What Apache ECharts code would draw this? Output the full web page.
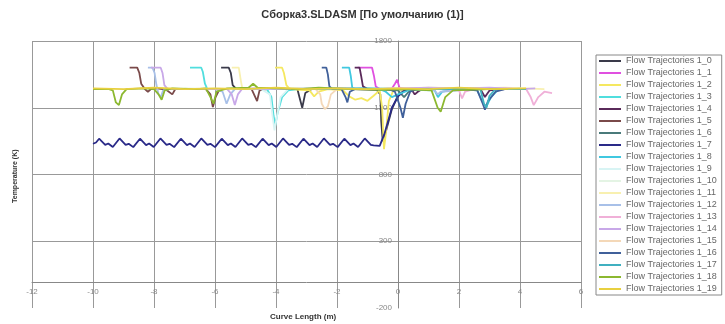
<!DOCTYPE html>
<html>
<head>
<meta charset="utf-8">
<script src="https://cdn.jsdelivr.net/npm/echarts@6/dist/echarts.min.js"></script>
<style>
html,body{margin:0;padding:0;background:#fff;}
#main{width:725px;height:324px;}
</style>
</head>
<body>
<div id="main"></div>
<script>
//1.创建echarts对象
var myChart=echarts.init(document.getElementById("main"));

//X/Y轴刻度
var xTicks=[-12,-10,-8,-6,-4,-2,0,2,4,6];
var yTicks=[-200,300,800,1300,1800];

//曲线名
var names=[];
for(var i=0;i<20;i++){ names.push("Flow Trajectories 1_"+i); }

//各条轨迹 [Curve Length, Temperature]
var flow0=[[-5.8,1600],[-5.55,1600],[-5.48,1560],[-5.42,1470],[-5.3,1440],[-4.2,1445],[-3.3,1440],[-3.22,1370],[-3.14,1300],[-3.04,1410],[-2.8,1445],[-1.5,1440],[-0.7,1435],[-0.58,1400],[-0.55,1200],[-0.5,1050],[-0.4,1120],[-0.2,1290],[0.0,1390],[0.2,1430],[0.8,1440]];
var flow1=[[-1.32,1600],[-0.85,1600],[-0.79,1540],[-0.73,1460],[-0.6,1440],[-0.2,1445],[-0.1,1480],[-0.03,1510],[0.05,1450],[0.3,1440],[1.0,1440]];
var flow2=[[-4.03,1600],[-3.8,1600],[-3.74,1560],[-3.66,1470],[-3.55,1440],[-3.2,1435],[-2.9,1430],[-2.75,1385],[-2.6,1420],[-2.3,1440],[-1.8,1430],[-1.6,1385],[-1.4,1360],[-1.2,1372],[-1.0,1352],[-0.8,1390],[-0.6,1430],[-0.52,1300],[-0.46,990],[-0.4,1100],[-0.3,1350],[-0.15,1430],[0.3,1440],[1.0,1445],[2.0,1440],[3.0,1445],[3.8,1440]];
var flow3=[[-6.82,1600],[-6.45,1600],[-6.4,1570],[-6.33,1480],[-6.25,1440],[-5.0,1440],[-4.3,1440],[-4.15,1380],[-4.08,1240],[-4.02,1170],[-3.95,1260],[-3.8,1380],[-3.6,1430],[-3.3,1440],[-2.1,1440],[-1.2,1445],[-0.3,1440]];
var flow4=[[-1.42,1600],[-1.26,1600],[-1.21,1540],[-1.15,1460],[-1.0,1440],[0.0,1440],[0.45,1435],[0.55,1400],[0.65,1420],[0.8,1440],[2.0,1445],[2.7,1440],[2.85,1380],[3.0,1430],[3.5,1440]];
var flow5=[[-8.8,1600],[-8.55,1600],[-8.48,1560],[-8.42,1480],[-8.3,1440],[-8.2,1420],[-8.1,1440],[-7.9,1445],[-7.6,1435],[-7.4,1400],[-7.3,1440],[-6.3,1440],[-6.15,1400],[-6.07,1305],[-5.98,1380],[-5.85,1440],[-4.8,1440],[-4.68,1380],[-4.62,1350],[-4.54,1430],[-4.3,1440],[-3.0,1440],[-2.0,1440]];
var flow6=[[-3.0,1440],[-2.0,1445],[-1.0,1440],[0.0,1430],[0.2,1380],[0.35,1420],[0.6,1440],[1.5,1440],[2.5,1445],[3.5,1440]];
var flow7=[[-10.0,1030],[-9.9,1040],[-9.8,1068],[-9.6,1022],[-9.5,1032],[-9.35,1006],[-9.13,1070],[-8.93,1022],[-8.83,1030],[-8.68,1005],[-8.46,1068],[-8.26,1020],[-8.16,1032],[-8.01,1006],[-7.79,1070],[-7.59,1022],[-7.49,1030],[-7.34,1005],[-7.12,1068],[-6.92,1020],[-6.82,1032],[-6.67,1006],[-6.45,1070],[-6.25,1022],[-6.15,1030],[-6.0,1005],[-5.78,1068],[-5.58,1020],[-5.48,1032],[-5.33,1006],[-5.11,1070],[-4.91,1022],[-4.81,1030],[-4.66,1005],[-4.44,1068],[-4.24,1020],[-4.14,1032],[-3.99,1006],[-3.77,1070],[-3.57,1022],[-3.47,1030],[-3.32,1005],[-3.1,1068],[-2.9,1020],[-2.8,1032],[-2.65,1006],[-2.43,1070],[-2.23,1022],[-2.13,1030],[-1.98,1005],[-1.76,1068],[-1.56,1020],[-1.46,1032],[-1.31,1006],[-1.09,1070],[-0.89,1022],[-0.8,1018],[-0.6,1015],[-0.45,1100],[-0.2,1300],[0.0,1385],[0.25,1435],[1.0,1440],[1.9,1445]];
var flow8=[[-1.84,1600],[-1.6,1600],[-1.55,1540],[-1.5,1450],[-1.4,1440],[-0.6,1440],[-0.4,1420],[-0.2,1380],[0.0,1400],[0.4,1435],[1.2,1430],[1.31,1380],[1.45,1420],[2.0,1440],[2.6,1430],[2.8,1330],[2.9,1310],[3.05,1380],[3.3,1440],[4.0,1445]];
var flow9=[[-6.0,1440],[-4.5,1440],[-4.2,1400],[-4.12,1250],[-4.05,1130],[-3.98,1220],[-3.85,1380],[-3.6,1440],[-2.0,1440],[0.0,1445]];
var flow10=[[-7.0,1445],[-5.0,1440],[-3.0,1445],[-1.0,1440],[1.0,1445],[3.0,1440]];
var flow11=[[-5.45,1600],[-5.22,1600],[-5.15,1500],[-5.1,1440],[-3.0,1445],[-1.0,1440],[1.0,1450],[2.5,1445],[3.5,1450],[4.8,1440]];
var flow12=[[-8.2,1600],[-8.05,1600],[-7.98,1560],[-7.92,1470],[-7.85,1400],[-7.78,1380],[-7.7,1430],[-7.5,1440],[-6.0,1440],[-5.75,1420],[-5.62,1330],[-5.5,1400],[-5.35,1440],[-4.0,1440],[-3.0,1445],[-2.0,1440],[-1.0,1440],[0.5,1440],[1.2,1430],[1.3,1400],[1.4,1420],[2.5,1440],[3.5,1440]];
var flow13=[[-1.0,1440],[0.5,1445],[1.5,1440],[2.0,1430],[2.1,1370],[2.2,1420],[2.5,1440],[3.5,1445],[4.2,1440],[4.35,1380],[4.45,1320],[4.6,1380],[4.8,1420],[5.05,1410]];
var flow14=[[-8.1,1600],[-7.78,1600],[-7.72,1560],[-7.66,1470],[-7.55,1440],[-6.5,1440],[-5.6,1440],[-5.45,1400],[-5.35,1320],[-5.25,1400],[-5.1,1445],[-3.5,1440],[-2.0,1445],[-0.5,1440],[1.0,1450],[2.0,1445],[3.0,1450],[4.0,1440],[4.5,1445]];
var flow15=[[-3.2,1440],[-2.7,1440],[-2.55,1400],[-2.5,1330],[-2.4,1290],[-2.3,1310],[-2.2,1400],[-2.0,1440],[0.0,1440],[2.0,1445],[3.5,1440]];
var flow16=[[-2.5,1600],[-2.35,1600],[-2.3,1550],[-2.25,1460],[-2.15,1440],[-1.85,1440],[-1.72,1380],[-1.66,1340],[-1.58,1420],[-1.4,1440],[-0.3,1440],[-0.1,1420],[0.08,1300],[0.16,1225],[0.25,1330],[0.4,1420],[0.6,1440],[2.0,1440],[2.6,1430],[2.78,1330],[2.85,1285],[2.95,1350],[3.2,1420],[3.5,1440]];
var flow17=[[-3.5,1440],[-1.0,1445],[0.5,1440],[1.5,1440],[2.7,1440],[2.82,1330],[2.9,1300],[3.0,1390],[3.2,1440],[4.2,1440]];
var flow18=[[-10.0,1440],[-9.5,1442],[-9.35,1430],[-9.25,1340],[-9.15,1320],[-9.05,1400],[-8.9,1440],[-8.3,1445],[-8.0,1440],[-7.85,1400],[-7.75,1360],[-7.65,1430],[-7.4,1445],[-6.6,1440],[-6.3,1445],[-6.15,1380],[-6.05,1330],[-5.95,1420],[-5.6,1445],[-4.9,1450],[-4.75,1480],[-4.6,1450],[-4.0,1445],[-3.2,1440],[-2.6,1450],[-1.5,1440],[-0.5,1435],[0.2,1440],[1.1,1430],[1.3,1300],[1.4,1270],[1.55,1380],[1.8,1430],[3.0,1440],[3.6,1440]];
var flow19=[[-10.0,1445],[-9.0,1440],[-8.0,1450],[-7.0,1440],[-6.0,1445],[-5.0,1440],[-4.0,1450],[-3.0,1440],[-2.0,1445],[-1.0,1440],[0.0,1445],[1.0,1440],[2.0,1450],[3.0,1440],[4.2,1445]];

var flows=[flow0,flow1,flow2,flow3,flow4,flow5,flow6,flow7,flow8,flow9,flow10,flow11,flow12,flow13,flow14,flow15,flow16,flow17,flow18,flow19];

//颜色
var colors=['#3a3a4a','#e050e0','#f5e860','#50dede','#5a2a5a','#7a4a4a','#4a7a7a','#2a2a88','#40c8e0','#d8f4f4',
            '#e4f4e4','#f8f0b0','#a8c0e8','#f0b0d8','#c8a8e8','#f4d8b8','#40609a','#40b0c0','#8cb830','#e8d040'];

var mySeries=[];
for(var k=0;k<flows.length;k++){
    mySeries.push({
        name:names[k],
        type:'line',
        data:flows[k],
        symbol:'none',
        color:colors[k],
        lineStyle:{width:1.8,color:colors[k]}
    });
}

//2.配置项
var option={
    animation:false,
    textStyle:{fontFamily:'Liberation Sans'},
    title:{
        text:'Сборка3.SLDASM [По умолчанию (1)]',
        left:'center',
        top:9,
        padding:0,
        textStyle:{fontSize:11,fontWeight:'bold',color:'#333',fontFamily:'Liberation Sans'}
    },
    legend:{
        data:names,
        orient:'vertical',
        left:596,
        top:55,
        icon:'rect',
        itemWidth:22,
        itemHeight:2,
        itemGap:2,
        padding:[1,5,1,3],
        borderColor:'#888',
        borderWidth:1,
        textStyle:{fontSize:9,lineHeight:10,color:'#666',fontFamily:'Liberation Sans'}
    },
    grid:{left:32,right:144,top:41,bottom:16},
    xAxis:{
        type:'value',
        position:'bottom',
        offset:-26, //移到y=0处
        min:xTicks[0],
        max:xTicks[xTicks.length-1],
        interval:2,
        axisLine:{onZero:false,lineStyle:{color:'#888'}},
        axisTick:{show:false},
        axisLabel:{fontSize:8,color:'#888',margin:6},
        splitLine:{show:true,lineStyle:{color:'#999',width:1}}
    },
    yAxis:{
        type:'value',
        position:'left',
        offset:-366, //移到x=0处
        min:yTicks[0],
        max:yTicks[yTicks.length-1],
        interval:500,
        axisLine:{show:true,onZero:false,lineStyle:{color:'#888'}},
        axisTick:{show:false},
        axisLabel:{fontSize:8,color:'#888',margin:6,formatter:function(v){return String(v);}},
        splitLine:{show:true,showMinLine:false,lineStyle:{color:'#999',width:1}}
    },
    graphic:[
        {type:'text',left:270,top:313,style:{text:'Curve Length (m)',font:'bold 8px Liberation Sans',fill:'#333'}},
        {type:'text',x:12,y:203,rotation:Math.PI/2,style:{text:'Temperature (K)',font:'bold 7px Liberation Sans',fill:'#333'}}
    ],
    series:mySeries
};
//3.设置
myChart.setOption(option);
</script>
</body>
</html>
